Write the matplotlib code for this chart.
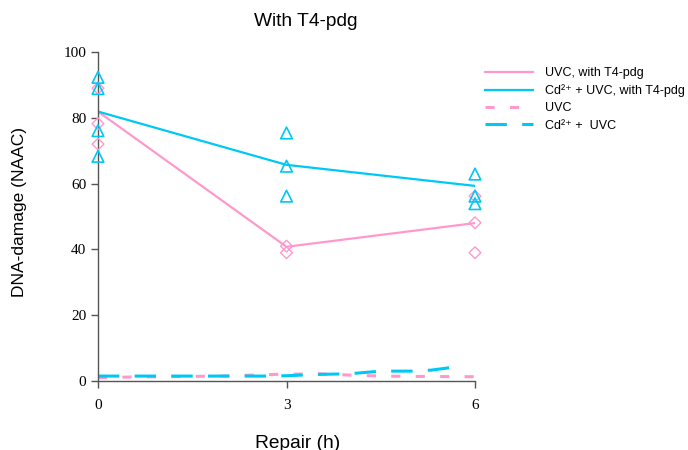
import matplotlib
matplotlib.use("Agg")
import matplotlib.pyplot as plt
from matplotlib.lines import Line2D

# Data
times = [0, 3, 6]
uvc_t4_mean = [81.9, 40.8, 48.0]
cd_t4_mean = [81.9, 65.7, 59.3]
uvc_t4_pts_x = [0, 0, 0, 3, 3, 6, 6, 6]
uvc_t4_pts_y = [89.0, 78.2, 72.0, 41.0, 39.0, 56.2, 48.1, 39.0]
cd_t4_pts_x = [0, 0, 0, 0, 3, 3, 3, 6, 6, 6]
cd_t4_pts_y = [92.3, 88.9, 76.1, 68.3, 75.4, 65.3, 56.2, 62.9, 56.2, 53.9]
uvc_x = [0, 0.5, 1, 2, 2.8, 3.5, 4, 4.5, 5, 6]
uvc_y = [1.0, 1.2, 1.3, 1.5, 2.0, 2.2, 1.8, 1.5, 1.4, 1.3]
cd_x = [0, 1, 2, 2.7, 3, 3.5, 4, 4.5, 5, 5.3, 5.7]
cd_y = [1.5, 1.5, 1.5, 1.5, 1.6, 2.0, 2.2, 3.0, 3.0, 3.3, 4.3]
labels = ["UVC, with T4-pdg", "Cd²⁺ + UVC, with T4-pdg", "UVC", "Cd²⁺ +  UVC"]

pink = "#FF99CC"
blue = "#00C8F5"
sans = ["Liberation Sans", "DejaVu Sans"]

fig = plt.figure(figsize=(6.88, 4.5), dpi=100)
ax = fig.add_axes([98/688, 1-381/450, 377/688, 329/450])

ax.plot(times, uvc_t4_mean, color=pink, lw=1.6)
ax.plot(times, cd_t4_mean, color=blue, lw=1.6)
ax.plot(uvc_x, uvc_y, color=pink, lw=2.2, ls=(0, (3, 5)))
ax.plot(cd_x, cd_y, color=blue, lw=2.2, ls=(0, (7, 5)))
ax.scatter(uvc_t4_pts_x, uvc_t4_pts_y, marker="D", s=36, facecolors="none",
           edgecolors=pink, linewidths=1.0, zorder=3, clip_on=False)
ax.scatter(cd_t4_pts_x, cd_t4_pts_y, marker="^", s=70, facecolors="none",
           edgecolors=blue, linewidths=1.2, zorder=3, clip_on=False)

ax.set_xlim(0, 6)
ax.set_ylim(0, 100)
ax.set_xticks([0, 3, 6])
ax.set_yticks([0, 20, 40, 60, 80, 100])
for s in ["top", "right"]:
    ax.spines[s].set_visible(False)
for s in ["left", "bottom"]:
    ax.spines[s].set_color("#555555")
    ax.spines[s].set_linewidth(1.0)
ax.tick_params(direction="out", length=5, color="#555555", width=1.0,
               labelsize=11)
for lab in ax.get_xticklabels() + ax.get_yticklabels():
    lab.set_fontfamily("Liberation Serif")
ax.tick_params(axis="x", pad=8)

fig.text(298/688, 1-443/450, "Repair (h)", ha="center", va="center",
         fontfamily=sans, fontsize=13.8)
fig.text(20/688, 1-212/450, "DNA-damage (NAAC)", ha="center", va="center",
         rotation=90, fontfamily=sans, fontsize=12.5)
fig.text(306/688, 1-21/450, "With T4-pdg", ha="center", va="center",
         fontfamily=sans, fontsize=13.8)

handles = [
    Line2D([], [], color=pink, lw=1.6),
    Line2D([], [], color=blue, lw=1.6),
    Line2D([], [], color=pink, lw=2.2, ls=(0, (3, 5))),
    Line2D([], [], color=blue, lw=2.2, ls=(0, (7, 5))),
]
leg = fig.legend(handles, labels, loc="upper left", bbox_to_anchor=(485/688, 1-67/450),
                 frameon=False, prop={"family": sans, "size": 9},
                 handlelength=3.8, handletextpad=1.0, labelspacing=0.42,
                 borderaxespad=0, borderpad=0)

fig.savefig("out.png", dpi=100)
